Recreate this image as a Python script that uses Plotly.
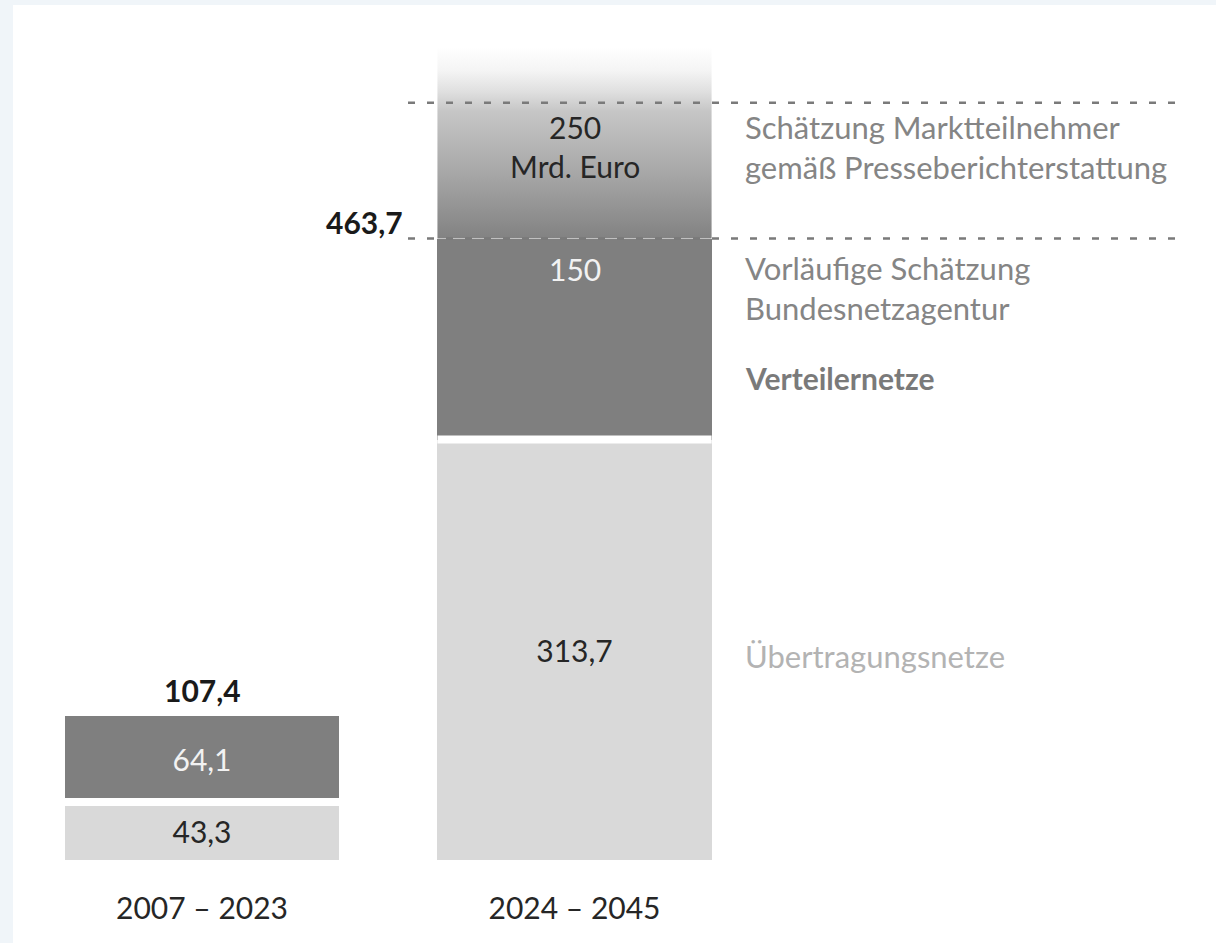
import plotly.graph_objects as go

# ---------------- data ----------------
periods = ["2007 – 2023", "2024 – 2045"]
uebertragungsnetze = [43.3, 313.7]          # Übertragungsnetze (light grey)
verteilernetze = [64.1, 150.0]              # Verteilernetze (dark grey)
schaetzung_markt = 250.0                    # additional estimate, 2024–2045 only
unit_label = "Mrd. Euro"
label_markt = "Schätzung Marktteilnehmer<br>gemäß Presseberichterstattung"
label_bnetza = "Vorläufige Schätzung<br>Bundesnetzagentur"
label_verteiler = "Verteilernetze"
label_uebertragung = "Übertragungsnetze"

totals = [round(a + b, 1) for a, b in zip(uebertragungsnetze, verteilernetze)]


def fmt(v):
    return f"{v:g}".replace(".", ",")


# ---------------- styling ----------------
FONT = "Lato"
DARK = "#7f7f7f"
LIGHT = "#d9d9d9"
TXT = "#262626"
xs = list(range(len(periods)))
BW = 0.736           # bar width in category units
W, H = 1216, 943

fig = go.Figure()

fig.add_trace(go.Bar(
    x=xs, y=uebertragungsnetze, width=BW,
    marker=dict(color=LIGHT, line=dict(width=0)),
    text=[fmt(v) for v in uebertragungsnetze], textposition="inside",
    insidetextanchor="middle",
    textfont=dict(family=FONT, size=30, color=TXT),
    hoverinfo="skip", showlegend=False,
))
fig.add_trace(go.Bar(
    x=xs, y=verteilernetze, width=BW,
    marker=dict(color=DARK, line=dict(width=0)),
    text=[fmt(verteilernetze[0]), ""], textposition="inside",
    insidetextanchor="middle",
    textfont=dict(family=FONT, size=30, color="#f2f2f2"),
    hoverinfo="skip", showlegend=False,
))

# fading estimate segment on top of the 2024–2045 bar
i2 = 1
base2 = totals[i2]
fig.add_trace(go.Scatter(
    x=[xs[i2] - BW / 2, xs[i2] + BW / 2, xs[i2] + BW / 2, xs[i2] - BW / 2, xs[i2] - BW / 2],
    y=[base2, base2, base2 + schaetzung_markt, base2 + schaetzung_markt, base2],
    mode="none", fill="toself",
    fillgradient=dict(type="vertical", colorscale=[
        [0.0, "#828282"], [0.2, "#a8a8a8"], [0.38, "#c6c6c6"], [0.44, "#e0e0e0"],
        [0.5, "#f4f4f4"], [0.57, "#ffffff"], [1.0, "#ffffff"]]),
    hoverinfo="skip", showlegend=False,
))

shapes = [
    # white panel behind everything
    dict(type="rect", xref="paper", yref="paper", x0=0, x1=1, y0=-0.1, y1=1,
         fillcolor="white", line=dict(width=0), layer="below"),
]
# white gaps between stacked segments
for i in xs:
    shapes.append(dict(type="line", xref="x", yref="y",
                       x0=xs[i] - BW / 2, x1=xs[i] + BW / 2,
                       y0=uebertragungsnetze[i], y1=uebertragungsnetze[i],
                       line=dict(color="white", width=8), layer="above"))
# dashed reference lines
for yv in [base2, 565]:
    shapes.append(dict(type="line", xref="x", yref="y", x0=0.553, x1=2.639,
                       y0=yv, y1=yv,
                       line=dict(color="#7a7a7a", width=2.5, dash="7px,12px"),
                       layer="above"))

ann = []


def add(text, x, y, xshift=0, yshift=0, color=TXT, bold=False, xanchor="center",
        align="center", size=30):
    ann.append(dict(
        text=f"<b>{text}</b>" if bold else text, x=x, y=y, xref="x", yref="y",
        xshift=xshift, yshift=yshift, showarrow=False, xanchor=xanchor, yanchor="middle",
        align=align, font=dict(family=FONT, size=size, color=color)))


# totals
add(fmt(totals[0]), xs[0], totals[0], yshift=26, bold=True, color="#1a1a1a")
add(fmt(totals[1]), xs[1], totals[1], xshift=-170, yshift=17, bold=True,
    color="#1a1a1a", xanchor="right", align="right")
# values inside 2024–2045 bar
add(fmt(verteilernetze[1]), xs[1], totals[1], yshift=-30, color="#f2f2f2")
add(f"{fmt(schaetzung_markt)}<br>{unit_label}", xs[1], totals[1], yshift=92)
# right-hand labels
RX = 168
add(label_markt, xs[1], totals[1], xshift=RX, yshift=92, color="#858585",
    xanchor="left", align="left", size=31)
add(label_bnetza, xs[1], totals[1], xshift=RX, yshift=-49, color="#858585",
    xanchor="left", align="left", size=31)
add(label_verteiler, xs[1], totals[1], xshift=RX, yshift=-139, color="#7a7a7a",
    bold=True, xanchor="left", align="left", size=30)
add(label_uebertragung, xs[1], uebertragungsnetze[1] / 2, xshift=RX, yshift=-6,
    color="#b3b3b3", xanchor="left", align="left", size=31)

fig.update_layout(
    width=W, height=H,
    margin=dict(l=13, r=0, t=5, b=83, pad=0),
    paper_bgcolor="#f0f5f9", plot_bgcolor="white",
    barmode="stack", bargap=0,
    shapes=shapes, annotations=ann,
    xaxis=dict(range=[-0.5074, 2.7221], tickvals=xs, ticktext=periods,
               showgrid=False, zeroline=False, showline=False, ticks="",
               tickfont=dict(family=FONT, size=30, color=TXT),
               ticklabelstandoff=28, fixedrange=True),
    yaxis=dict(range=[0, 638], visible=False, fixedrange=True),
    font=dict(family=FONT),
)

fig.write_html("out.html", config={"displayModeBar": False},
               post_script="document.body.style.margin='0';document.body.style.overflow='hidden';")
